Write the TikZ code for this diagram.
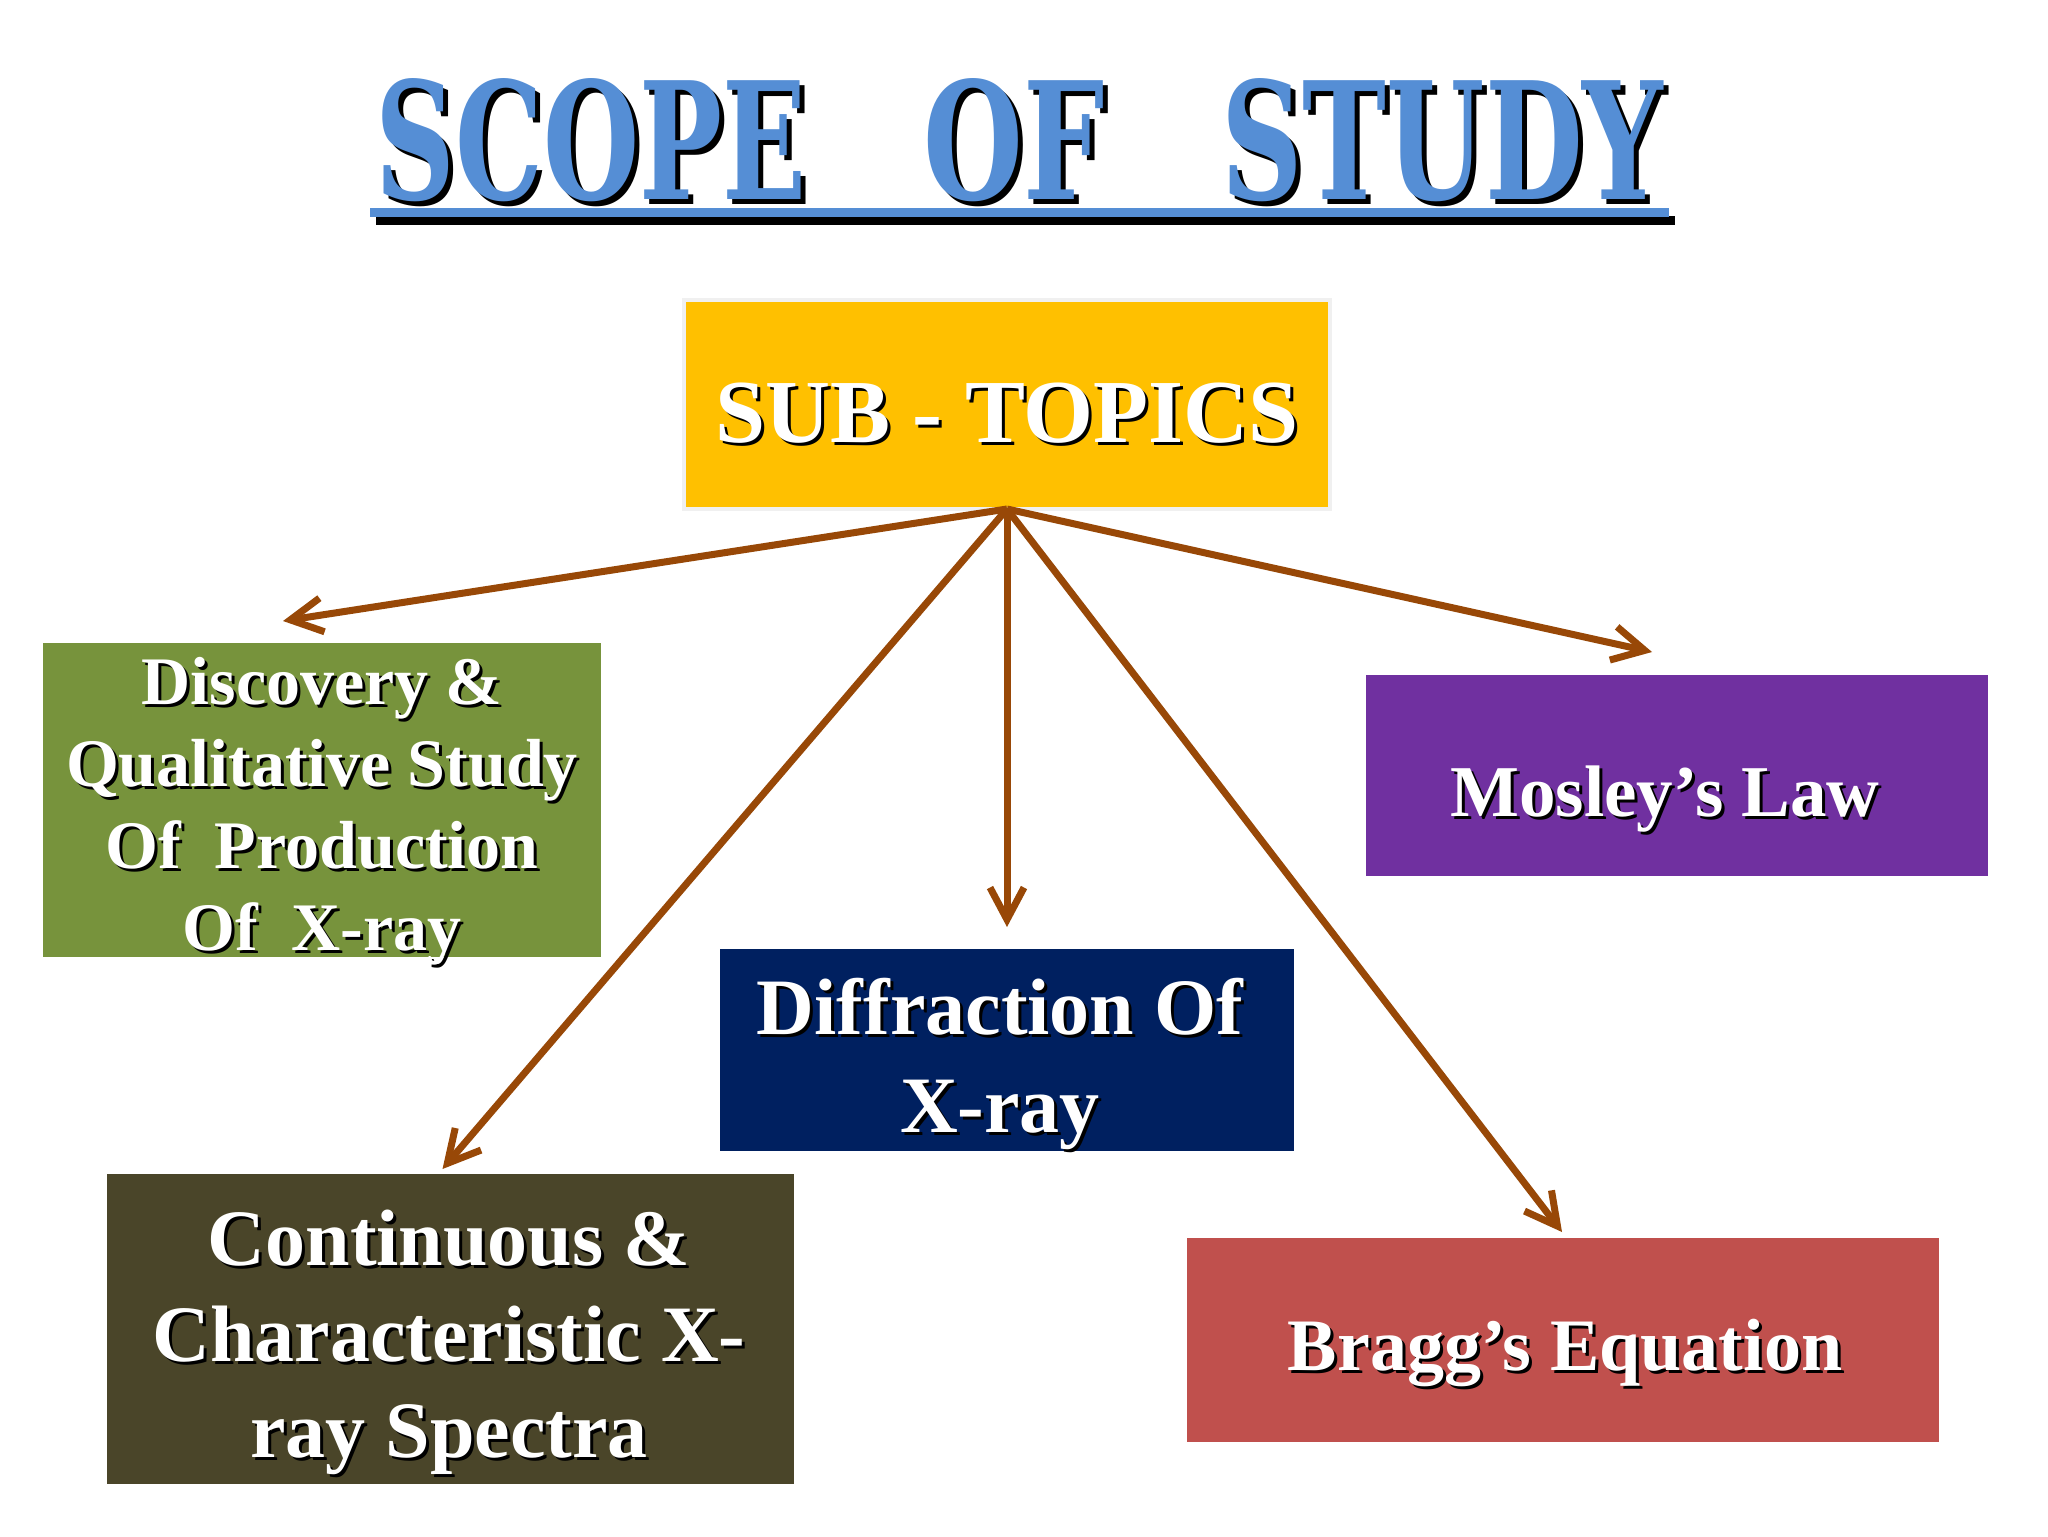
\documentclass[tikz,border=0pt]{standalone}
\usepackage{fontspec}
\setmainfont{Liberation Serif}
\newfontfamily\titlefont{DejaVu Serif}
\usetikzlibrary{arrows.meta,calc}
\definecolor{titleblue}{HTML}{558ED5}
\definecolor{arrowbrown}{HTML}{984807}
\definecolor{subyellow}{HTML}{FFC000}
\definecolor{boxgreen}{HTML}{77933C}
\definecolor{boxpurple}{HTML}{7030A0}
\definecolor{boxnavy}{HTML}{002060}
\definecolor{boxolive}{HTML}{4A4529}
\definecolor{boxred}{HTML}{C0504D}
\tikzset{
  box/.style={draw=none, inner sep=0pt, outer sep=0pt},
  txt/.style={align=center, inner sep=0pt},
  shd/.style={txt, text=black},
  wht/.style={txt, text=white},
  fs/.style 2 args={font=\bfseries\fontsize{#1}{#2}\selectfont},
  link/.style={draw=arrowbrown, line width=3.5pt,
    -{Straight Barb[length=16pt,width=17pt]}},
}
\newcommand\ttlword[4]{% name, x, width(pt), text
  \node[anchor=north west, inner sep=0pt, text=black] (#1s) at ($(#2,78)+(5,5)$)
    {\resizebox{#3}{60.5pt}{\titlefont\bfseries #4}};
  \node[anchor=north west, inner sep=0pt, text=titleblue] (#1) at (#2,78)
    {\resizebox{#3}{60.5pt}{\titlefont\bfseries #4}};
}
\begin{document}
\begin{tikzpicture}[x=0.5pt,y=-0.5pt]
\useasboundingbox (0,0) rectangle (2048,1536);
\fill[white] (0,0) rectangle (2048,1536);

% title
\ttlword{tS}{375}{215.5pt}{SCOPE}
\ttlword{tO}{923}{90.5pt}{OF}
\ttlword{tD}{1221}{221pt}{STUDY}
\fill[black] (376,216) rectangle (1675,225);
\fill[titleblue] (370,208) rectangle (1669,217);

% boxes
\node[box, fill=subyellow, draw=gray!12, line width=2pt,
  minimum width=323pt, minimum height=104.5pt] (sub) at (1007,404.5) {};
\node[box, fill=boxgreen, minimum width=279pt, minimum height=157pt] (green) at (322,800) {};
\node[box, fill=boxpurple, minimum width=311pt, minimum height=100.5pt] (purple) at (1677,775.5) {};
\node[box, fill=boxnavy, minimum width=287pt, minimum height=101pt] (navy) at (1007,1050) {};
\node[box, fill=boxolive, minimum width=343.5pt, minimum height=155pt] (olive) at (450.5,1329) {};
\node[box, fill=boxred, minimum width=376pt, minimum height=102pt] (red) at (1563,1340) {};

% texts
\node[shd, fs={45pt}{50pt}] (subs) at ($(1007,413)+(3,3)$) {SUB - TOPICS};
\node[wht, fs={45pt}{50pt}] (subt) at (1007,413) {SUB - TOPICS};

\newcommand\greentxt{Discovery \&\\Qualitative Study\\Of\ \ Production\\Of\ \ X-ray}
\node[shd, fs={34pt}{41pt}] (greens) at ($(322,811)+(3,3)$) {\greentxt};
\node[wht, fs={34pt}{41pt}] (greent) at (322,811) {\greentxt};

\node[shd, fs={36.5pt}{44pt}] (purples) at ($(1665,799)+(3,3)$) {Mosley’s Law};
\node[wht, fs={36.5pt}{44pt}] (purplet) at (1665,799) {Mosley’s Law};

\newcommand\navytxt{Diffraction Of\\X-ray}
\node[shd, fs={40pt}{49pt}] (navys) at ($(1000,1064)+(3,3)$) {\navytxt};
\node[wht, fs={40pt}{49pt}] (navyt) at (1000,1064) {\navytxt};

\newcommand\olivetxt{Continuous \&\\Characteristic X-\\ray Spectra}
\node[shd, fs={40pt}{48pt}] (olives) at ($(449,1342)+(3,3)$) {\olivetxt};
\node[wht, fs={40pt}{48pt}] (olivet) at (449,1342) {\olivetxt};

\node[shd, fs={37pt}{44pt}] (reds) at ($(1565,1353)+(3,3)$) {Bragg’s Equation};
\node[wht, fs={37pt}{44pt}] (redt) at (1565,1353) {Bragg’s Equation};

% arrow tips
\coordinate (g1) at ($(green.north)+(-39,-22)$);
\coordinate (o1) at ($(olive.north)+(-8,-5)$);
\coordinate (n1) at ($(navy.north)+(0,-22)$);
\coordinate (r1) at ($(red.north)+(-1,-6)$);
\coordinate (p1) at ($(purple.north)+(-25,-23)$);

\draw[link] (sub.south) -- (g1);
\draw[link] (sub.south) -- (o1);
\draw[link] (sub.south) -- (n1);
\draw[link] (sub.south) -- (r1);
\draw[link] (sub.south) -- (p1);
\end{tikzpicture}
\end{document}
